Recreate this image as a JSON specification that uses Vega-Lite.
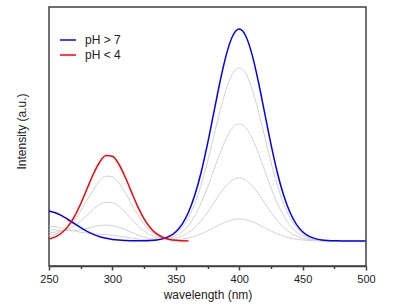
{
"$schema": "https://vega.github.io/schema/vega-lite/v6.json",
"width": 317, "height": 259,
"autosize": {"type": "none"},
"padding": {"left": 49, "top": 7, "right": 28, "bottom": 39},
"background": "white",
"config": {"font": "Liberation Sans", "view": {"stroke": "#404040", "strokeWidth": 1.5}, "axis": {"labelColor": "#222", "titleColor": "#222", "titleFontWeight": "normal", "grid": false}, "legend": {"labelColor": "#222"}},
"datasets": {
"main": [
{"s":"pH > 7","x":250,"y":30.0},{"s":"pH > 7","x":255,"y":28.3},{"s":"pH > 7","x":260,"y":25.4},{"s":"pH > 7","x":265,"y":21.5},{"s":"pH > 7","x":270,"y":17.4},{"s":"pH > 7","x":275,"y":13.3},{"s":"pH > 7","x":280,"y":9.6},{"s":"pH > 7","x":285,"y":6.6},{"s":"pH > 7","x":290,"y":4.3},{"s":"pH > 7","x":295,"y":2.7},{"s":"pH > 7","x":300,"y":1.6},{"s":"pH > 7","x":305,"y":0.9},{"s":"pH > 7","x":310,"y":0.5},{"s":"pH > 7","x":315,"y":0.3},{"s":"pH > 7","x":320,"y":0.2},{"s":"pH > 7","x":325,"y":0.2},{"s":"pH > 7","x":330,"y":0.5},{"s":"pH > 7","x":335,"y":1.1},{"s":"pH > 7","x":340,"y":2.4},{"s":"pH > 7","x":345,"y":4.8},{"s":"pH > 7","x":350,"y":9.3},{"s":"pH > 7","x":355,"y":16.9},{"s":"pH > 7","x":360,"y":28.7},{"s":"pH > 7","x":365,"y":45.9},{"s":"pH > 7","x":370,"y":68.8},{"s":"pH > 7","x":375,"y":97.1},{"s":"pH > 7","x":380,"y":128.6},{"s":"pH > 7","x":385,"y":160.0},{"s":"pH > 7","x":390,"y":187.1},{"s":"pH > 7","x":395,"y":205.5},{"s":"pH > 7","x":400,"y":212},{"s":"pH > 7","x":405,"y":205.5},{"s":"pH > 7","x":410,"y":187.1},{"s":"pH > 7","x":415,"y":160.0},{"s":"pH > 7","x":420,"y":128.6},{"s":"pH > 7","x":425,"y":97.1},{"s":"pH > 7","x":430,"y":68.8},{"s":"pH > 7","x":435,"y":45.9},{"s":"pH > 7","x":440,"y":28.7},{"s":"pH > 7","x":445,"y":16.9},{"s":"pH > 7","x":450,"y":9.3},{"s":"pH > 7","x":455,"y":4.8},{"s":"pH > 7","x":460,"y":2.4},{"s":"pH > 7","x":465,"y":1.1},{"s":"pH > 7","x":470,"y":0.5},{"s":"pH > 7","x":475,"y":0.2},{"s":"pH > 7","x":480,"y":0.1},{"s":"pH > 7","x":485,"y":0},{"s":"pH > 7","x":490,"y":0},{"s":"pH > 7","x":495,"y":0},{"s":"pH > 7","x":500,"y":0},
{"s":"pH < 4","x":250,"y":1.9},{"s":"pH < 4","x":255,"y":4.1},{"s":"pH < 4","x":260,"y":8.0},{"s":"pH < 4","x":265,"y":14.6},{"s":"pH < 4","x":270,"y":24.3},{"s":"pH < 4","x":275,"y":37.2},{"s":"pH < 4","x":280,"y":52.2},{"s":"pH < 4","x":285,"y":67.0},{"s":"pH < 4","x":290,"y":79.0},{"s":"pH < 4","x":295,"y":85.4},{"s":"pH < 4","x":300,"y":84.7},{"s":"pH < 4","x":305,"y":77.0},{"s":"pH < 4","x":310,"y":64.2},{"s":"pH < 4","x":315,"y":49.1},{"s":"pH < 4","x":320,"y":34.4},{"s":"pH < 4","x":325,"y":22.2},{"s":"pH < 4","x":330,"y":13.1},{"s":"pH < 4","x":335,"y":7.1},{"s":"pH < 4","x":340,"y":3.5},{"s":"pH < 4","x":345,"y":1.6},{"s":"pH < 4","x":350,"y":0.7},{"s":"pH < 4","x":355,"y":0.3},{"s":"pH < 4","x":360,"y":0.1}
],
"grey": [
{"g":1,"x":250,"y":15.0},{"g":1,"x":255,"y":14.3},{"g":1,"x":260,"y":13.0},{"g":1,"x":265,"y":11.5},{"g":1,"x":270,"y":10.0},{"g":1,"x":275,"y":8.7},{"g":1,"x":280,"y":7.8},{"g":1,"x":285,"y":7.2},{"g":1,"x":290,"y":6.7},{"g":1,"x":295,"y":6.3},{"g":1,"x":300,"y":5.7},{"g":1,"x":305,"y":4.9},{"g":1,"x":310,"y":4.0},{"g":1,"x":315,"y":3.0},{"g":1,"x":320,"y":2.1},{"g":1,"x":325,"y":1.5},{"g":1,"x":330,"y":1.2},{"g":1,"x":335,"y":1.3},{"g":1,"x":340,"y":2.1},{"g":1,"x":345,"y":4.0},{"g":1,"x":350,"y":7.6},{"g":1,"x":355,"y":13.8},{"g":1,"x":360,"y":23.4},{"g":1,"x":365,"y":37.4},{"g":1,"x":370,"y":56.2},{"g":1,"x":375,"y":79.2},{"g":1,"x":380,"y":104.9},{"g":1,"x":385,"y":130.6},{"g":1,"x":390,"y":152.7},{"g":1,"x":395,"y":167.7},{"g":1,"x":400,"y":173},{"g":1,"x":405,"y":167.7},{"g":1,"x":410,"y":152.7},{"g":1,"x":415,"y":130.6},{"g":1,"x":420,"y":104.9},{"g":1,"x":425,"y":79.2},{"g":1,"x":430,"y":56.2},{"g":1,"x":435,"y":37.4},{"g":1,"x":440,"y":23.4},{"g":1,"x":445,"y":13.8},{"g":1,"x":450,"y":7.6},{"g":1,"x":455,"y":3.9},{"g":1,"x":460,"y":1.9},{"g":1,"x":465,"y":0.9},{"g":1,"x":470,"y":0.4},{"g":1,"x":475,"y":0.2},{"g":1,"x":480,"y":0.1},{"g":1,"x":485,"y":0},{"g":1,"x":490,"y":0},{"g":1,"x":495,"y":0},{"g":1,"x":500,"y":0},
{"g":2,"x":250,"y":11.2},{"g":2,"x":255,"y":11.0},{"g":2,"x":260,"y":10.6},{"g":2,"x":265,"y":10.4},{"g":2,"x":270,"y":10.5},{"g":2,"x":275,"y":11.3},{"g":2,"x":280,"y":12.6},{"g":2,"x":285,"y":14.1},{"g":2,"x":290,"y":15.4},{"g":2,"x":295,"y":15.9},{"g":2,"x":300,"y":15.3},{"g":2,"x":305,"y":13.8},{"g":2,"x":310,"y":11.4},{"g":2,"x":315,"y":8.7},{"g":2,"x":320,"y":6.1},{"g":2,"x":325,"y":4.0},{"g":2,"x":330,"y":2.5},{"g":2,"x":335,"y":1.8},{"g":2,"x":340,"y":1.9},{"g":2,"x":345,"y":2.9},{"g":2,"x":350,"y":5.3},{"g":2,"x":355,"y":9.4},{"g":2,"x":360,"y":15.8},{"g":2,"x":365,"y":25.3},{"g":2,"x":370,"y":38.0},{"g":2,"x":375,"y":53.6},{"g":2,"x":380,"y":71.0},{"g":2,"x":385,"y":88.3},{"g":2,"x":390,"y":103.3},{"g":2,"x":395,"y":113.4},{"g":2,"x":400,"y":117},{"g":2,"x":405,"y":113.4},{"g":2,"x":410,"y":103.3},{"g":2,"x":415,"y":88.3},{"g":2,"x":420,"y":71.0},{"g":2,"x":425,"y":53.6},{"g":2,"x":430,"y":38.0},{"g":2,"x":435,"y":25.3},{"g":2,"x":440,"y":15.8},{"g":2,"x":445,"y":9.3},{"g":2,"x":450,"y":5.1},{"g":2,"x":455,"y":2.7},{"g":2,"x":460,"y":1.3},{"g":2,"x":465,"y":0.6},{"g":2,"x":470,"y":0.3},{"g":2,"x":475,"y":0.1},{"g":2,"x":480,"y":0},{"g":2,"x":485,"y":0},{"g":2,"x":490,"y":0},{"g":2,"x":495,"y":0},{"g":2,"x":500,"y":0},
{"g":3,"x":250,"y":8.3},{"g":3,"x":255,"y":8.8},{"g":3,"x":260,"y":9.9},{"g":3,"x":265,"y":11.9},{"g":3,"x":270,"y":15.2},{"g":3,"x":275,"y":20.0},{"g":3,"x":280,"y":25.7},{"g":3,"x":285,"y":31.7},{"g":3,"x":290,"y":36.4},{"g":3,"x":295,"y":38.9},{"g":3,"x":300,"y":38.3},{"g":3,"x":305,"y":34.7},{"g":3,"x":310,"y":28.9},{"g":3,"x":315,"y":22.0},{"g":3,"x":320,"y":15.5},{"g":3,"x":325,"y":10.0},{"g":3,"x":330,"y":6.0},{"g":3,"x":335,"y":3.5},{"g":3,"x":340,"y":2.3},{"g":3,"x":345,"y":2.2},{"g":3,"x":350,"y":3.1},{"g":3,"x":355,"y":5.1},{"g":3,"x":360,"y":8.6},{"g":3,"x":365,"y":13.6},{"g":3,"x":370,"y":20.5},{"g":3,"x":375,"y":28.8},{"g":3,"x":380,"y":38.2},{"g":3,"x":385,"y":47.6},{"g":3,"x":390,"y":55.6},{"g":3,"x":395,"y":61.1},{"g":3,"x":400,"y":63},{"g":3,"x":405,"y":61.1},{"g":3,"x":410,"y":55.6},{"g":3,"x":415,"y":47.6},{"g":3,"x":420,"y":38.2},{"g":3,"x":425,"y":28.8},{"g":3,"x":430,"y":20.5},{"g":3,"x":435,"y":13.6},{"g":3,"x":440,"y":8.5},{"g":3,"x":445,"y":5.0},{"g":3,"x":450,"y":2.8},{"g":3,"x":455,"y":1.4},{"g":3,"x":460,"y":0.7},{"g":3,"x":465,"y":0.3},{"g":3,"x":470,"y":0.1},{"g":3,"x":475,"y":0.1},{"g":3,"x":480,"y":0},{"g":3,"x":485,"y":0},{"g":3,"x":490,"y":0},{"g":3,"x":495,"y":0},{"g":3,"x":500,"y":0},
{"g":4,"x":250,"y":5.4},{"g":4,"x":255,"y":6.8},{"g":4,"x":260,"y":9.4},{"g":4,"x":265,"y":13.9},{"g":4,"x":270,"y":20.7},{"g":4,"x":275,"y":29.9},{"g":4,"x":280,"y":40.7},{"g":4,"x":285,"y":51.5},{"g":4,"x":290,"y":60.3},{"g":4,"x":295,"y":64.9},{"g":4,"x":300,"y":64.2},{"g":4,"x":305,"y":58.3},{"g":4,"x":310,"y":48.6},{"g":4,"x":315,"y":37.1},{"g":4,"x":320,"y":26.1},{"g":4,"x":325,"y":16.8},{"g":4,"x":330,"y":9.9},{"g":4,"x":335,"y":5.5},{"g":4,"x":340,"y":2.9},{"g":4,"x":345,"y":1.7},{"g":4,"x":350,"y":1.5},{"g":4,"x":355,"y":1.9},{"g":4,"x":360,"y":3.0},{"g":4,"x":365,"y":4.8},{"g":4,"x":370,"y":7.1},{"g":4,"x":375,"y":10.1},{"g":4,"x":380,"y":13.3},{"g":4,"x":385,"y":16.6},{"g":4,"x":390,"y":19.4},{"g":4,"x":395,"y":21.3},{"g":4,"x":400,"y":22},{"g":4,"x":405,"y":21.3},{"g":4,"x":410,"y":19.4},{"g":4,"x":415,"y":16.6},{"g":4,"x":420,"y":13.3},{"g":4,"x":425,"y":10.1},{"g":4,"x":430,"y":7.1},{"g":4,"x":435,"y":4.8},{"g":4,"x":440,"y":3.0},{"g":4,"x":445,"y":1.8},{"g":4,"x":450,"y":1.0},{"g":4,"x":455,"y":0.5},{"g":4,"x":460,"y":0.2},{"g":4,"x":465,"y":0.1},{"g":4,"x":470,"y":0},{"g":4,"x":475,"y":0},{"g":4,"x":480,"y":0},{"g":4,"x":485,"y":0},{"g":4,"x":490,"y":0},{"g":4,"x":495,"y":0},{"g":4,"x":500,"y":0}
]
},
"encoding": {
"x": {"field": "x", "type": "quantitative", "scale": {"domain": [250, 500], "nice": false, "zero": false},
 "axis": {"title": "wavelength (nm)", "values": [250,275,300,325,350,375,400,425,450,475,500], "labelExpr": "datum.value % 50 === 0 ? datum.label : ''", "tickSize": {"condition": {"test": "datum.value % 50 === 0", "value": 4}, "value": 2.5}, "tickColor": "#404040", "tickWidth": 1.5, "domainColor": "#404040", "domainWidth": 1.5, "labelFontSize": 11, "labelPadding": 3, "labelFlush": false, "titleFontSize": 12, "titlePadding": 5}},
"y": {"field": "y", "type": "quantitative", "scale": {"domain": [-25, 234], "nice": false, "zero": false},
 "axis": {"title": "Intensity (a.u.)", "domain": false, "ticks": false, "labels": false, "titleFontSize": 12, "titlePadding": 21, "titleY": 124}}
},
"layer": [
{"data": {"name": "grey"}, "mark": {"type": "line", "interpolate": "monotone", "stroke": "#d2d2d2", "strokeWidth": 1}, "encoding": {"detail": {"field": "g", "type": "nominal"}}},
{"data": {"name": "main"}, "mark": {"type": "line", "interpolate": "monotone", "strokeWidth": 1.5},
 "encoding": {"color": {"field": "s", "type": "nominal", "scale": {"domain": ["pH > 7", "pH < 4"], "range": ["#0000ff", "#ff0000"]},
  "legend": {"title": null, "orient": "none", "legendX": 10, "legendY": 24, "symbolType": "stroke", "symbolSize": 256, "symbolStrokeWidth": 1.5, "labelFontSize": 12, "labelOffset": 8, "rowPadding": 0, "padding": 0}}}}
]
}
